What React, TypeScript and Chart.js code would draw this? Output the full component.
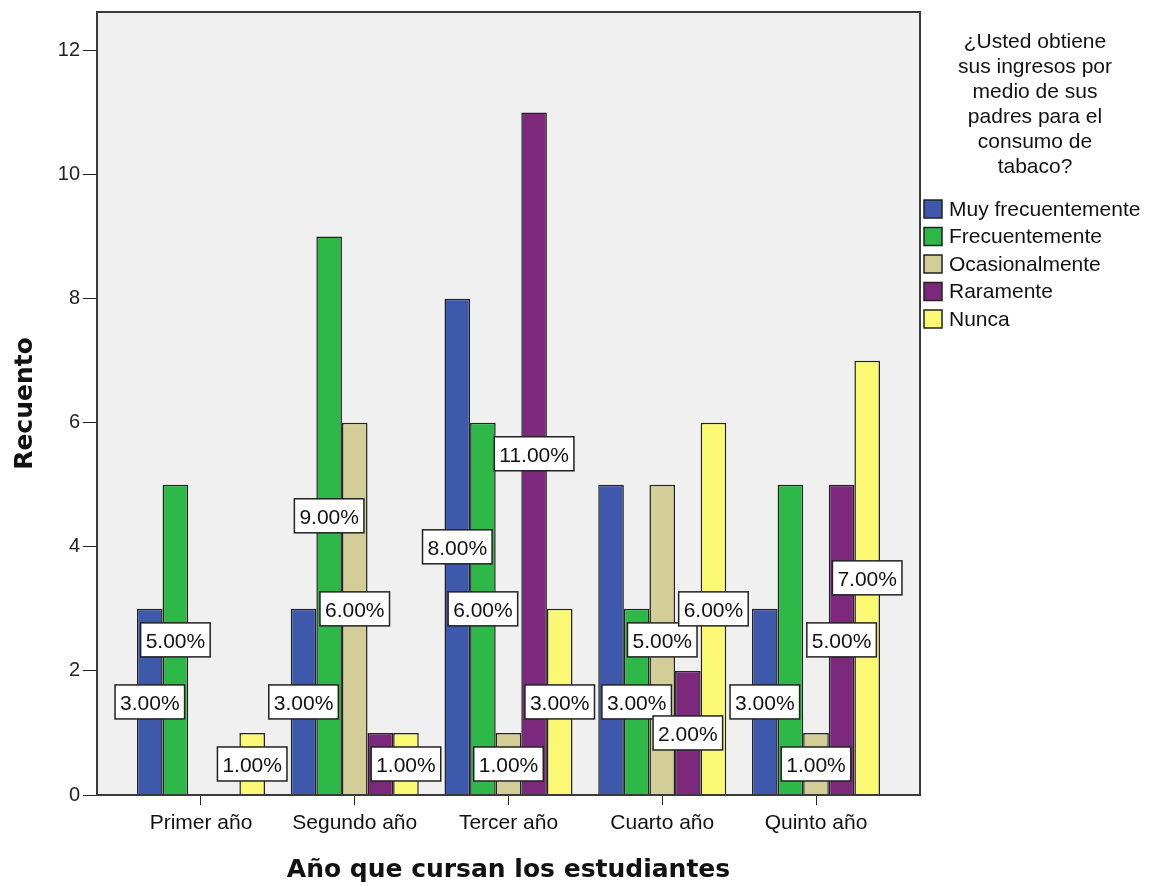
import { useEffect, useRef } from "react";
import { Chart, registerables } from "chart.js";

Chart.register(...registerables);

// Categories (school year) and counts per answer
const years = ["Primer año", "Segundo año", "Tercer año", "Cuarto año", "Quinto año"];
const muyFrecuentemente = [3, 3, 8, 5, 3];
const frecuentemente = [5, 9, 6, 3, 5];
const ocasionalmente = [0, 6, 1, 5, 1];
const raramente = [0, 1, 11, 2, 5];
const nunca = [1, 1, 3, 6, 7];

const seriesNames = ["Muy frecuentemente", "Frecuentemente", "Ocasionalmente", "Raramente", "Nunca"];
const seriesValues = [muyFrecuentemente, frecuentemente, ocasionalmente, raramente, nunca];
const seriesColors = ["#3e58ac", "#2eb848", "#d3ce97", "#7c287d", "#fbf873"];

const legendTitle = ["¿Usted obtiene", "sus ingresos por", "medio de sus", "padres para el", "consumo de", "tabaco?"];
const xTitle = "Año que cursan los estudiantes";
const yTitle = "Recuento";

const SANS = "'Liberation Sans', Arial, sans-serif";
const BOLD_TITLE = "'DejaVu Sans', sans-serif";

type Box = { x: number; y: number; w: number; h: number; text: string };

// Plot background, frame and the boxed value labels at mid-height of each bar.
// Labels are placed from the last series backwards; a label that would clearly
// collide with one already placed is left out.
const framePlugin = {
  id: "frameAndLabels",
  beforeDraw(chart: any) {
    const { left, top, right, bottom } = chart.chartArea;
    const ctx = chart.ctx;
    ctx.save();
    ctx.fillStyle = "#f0f0f0";
    ctx.fillRect(left, top, right - left, bottom - top);
    ctx.restore();
  },
  afterDatasetsDraw(chart: any) {
    const { left, top, right, bottom } = chart.chartArea;
    const ctx = chart.ctx;
    ctx.save();
    ctx.strokeStyle = "#3a3a3a";
    ctx.lineWidth = 2;
    ctx.strokeRect(left, top, right - left, bottom - top);

    const yScale = chart.scales.y;
    ctx.font = `21px ${SANS}`;
    const placed: { box: Box; ds: number }[] = [];
    const n = chart.data.datasets.length;
    for (let i = n - 1; i >= 0; i--) {
      const ds: any = chart.data.datasets[i];
      const meta = chart.getDatasetMeta(i);
      meta.data.forEach((bar: any, j: number) => {
        const v = ds.data[j].y;
        if (!v) return;
        const text = `${v.toFixed(2)}%`;
        const w = ctx.measureText(text).width + 10;
        const h = 34;
        const box: Box = { x: bar.x - w / 2, y: yScale.getPixelForValue(v / 2) - h / 2, w, h, text };
        const clash = placed.some(({ box: b }) => {
          const ox = Math.min(b.x + b.w, box.x + box.w) - Math.max(b.x, box.x);
          const oy = Math.min(b.y + b.h, box.y + box.h) - Math.max(b.y, box.y);
          return ox > 6 && oy > 6;
        });
        if (!clash) placed.push({ box, ds: i });
      });
    }
    placed.sort((a, b) => a.ds - b.ds);
    ctx.textAlign = "center";
    ctx.textBaseline = "middle";
    placed.forEach(({ box }) => {
      ctx.fillStyle = "#ffffff";
      ctx.fillRect(box.x, box.y, box.w, box.h);
      ctx.strokeStyle = "#222222";
      ctx.lineWidth = 1.5;
      ctx.strokeRect(box.x, box.y, box.w, box.h);
      ctx.fillStyle = "#111111";
      ctx.fillText(box.text, box.x + box.w / 2, box.y + box.h / 2 + 2);
    });
    ctx.restore();
  },
};

// Legend on the right with a multi-line title
const legendPlugin = {
  id: "sideLegend",
  afterDraw(chart: any) {
    const ctx = chart.ctx;
    const x0 = chart.chartArea.right;
    ctx.save();
    ctx.font = `21px ${SANS}`;
    ctx.fillStyle = "#111111";
    ctx.textAlign = "center";
    ctx.textBaseline = "middle";
    legendTitle.forEach((line, i) => ctx.fillText(line, x0 + 115, 42 + i * 25));
    ctx.textAlign = "left";
    chart.data.datasets.forEach((ds: any, i: number) => {
      const y = 209 + i * 27.5;
      ctx.fillStyle = ds.backgroundColor;
      ctx.fillRect(x0 + 4, y - 9, 18, 18);
      ctx.strokeStyle = "#222222";
      ctx.lineWidth = 1.5;
      ctx.strokeRect(x0 + 4, y - 9, 18, 18);
      ctx.fillStyle = "#111111";
      ctx.fillText(ds.label, x0 + 29, y + 1);
    });
    ctx.restore();
  },
};

export default function App() {
  const canvasRef = useRef<HTMLCanvasElement | null>(null);

  useEffect(() => {
    if (!canvasRef.current) return;
    const chart = new Chart(canvasRef.current, {
      type: "bar",
      data: {
        datasets: seriesNames.map((name, i) => ({
          label: name,
          data: seriesValues[i].map((v, j) => ({ x: j, y: v })),
          backgroundColor: seriesColors[i],
          borderColor: "#222222",
          borderWidth: 1.5,
          borderSkipped: "bottom",
          categoryPercentage: 0.8325,
          barPercentage: 1,
        })),
      },
      options: {
        animation: false,
        responsive: false,
        devicePixelRatio: 1,
        layout: { padding: { top: 12, right: 236, left: 0, bottom: 0 } },
        plugins: { legend: { display: false }, tooltip: { enabled: false } },
        scales: {
          x: {
            type: "linear",
            offset: false,
            min: -0.6764,
            max: 4.6764,
            afterFit(scale: any) {
              scale.height = 91;
              scale.paddingLeft = 0;
              scale.paddingRight = 0;
            },
            ticks: {
              stepSize: 1,
              includeBounds: false,
              autoSkip: false,
              maxRotation: 0,
              padding: 6,
              color: "#111111",
              font: { family: SANS, size: 21 },
              callback: (v: any) => (Number.isInteger(v) && years[v] !== undefined ? years[v] : ""),
            },
            grid: {
              display: true,
              offset: false,
              drawOnChartArea: false,
              drawTicks: true,
              tickLength: 10,
              color: "#222222",
              lineWidth: 1,
            },
            border: { display: true, color: "#222222", width: 2 },
            title: {
              display: true,
              text: xTitle,
              color: "#111111",
              font: { family: BOLD_TITLE, size: 25, weight: "bold" },
              padding: { top: 0, bottom: 1 },
            },
          },
          y: {
            min: 0,
            max: 12.62,
            afterFit(scale: any) {
              scale.width = 97;
              scale.paddingTop = 0;
              scale.paddingBottom = 0;
            },
            ticks: {
              stepSize: 2,
              includeBounds: false,
              padding: 3,
              color: "#222222",
              font: { family: SANS, size: 20 },
            },
            grid: { display: true, drawOnChartArea: false, drawTicks: true, tickLength: 14, color: "#222222", lineWidth: 1 },
            border: { display: true, color: "#222222", width: 2 },
            title: {
              display: true,
              text: yTitle,
              color: "#111111",
              font: { family: BOLD_TITLE, size: 25, weight: "bold" },
              padding: { top: 10, bottom: 0 },
            },
          },
        },
      },
      plugins: [framePlugin, legendPlugin],
    });
    return () => chart.destroy();
  }, []);

  return (
    <div style={{ position: "fixed", left: 0, top: 0, width: 1156, height: 886, background: "#ffffff" }}>
      <canvas ref={canvasRef} width={1156} height={886} style={{ width: 1156, height: 886, display: "block" }} />
    </div>
  );
}
